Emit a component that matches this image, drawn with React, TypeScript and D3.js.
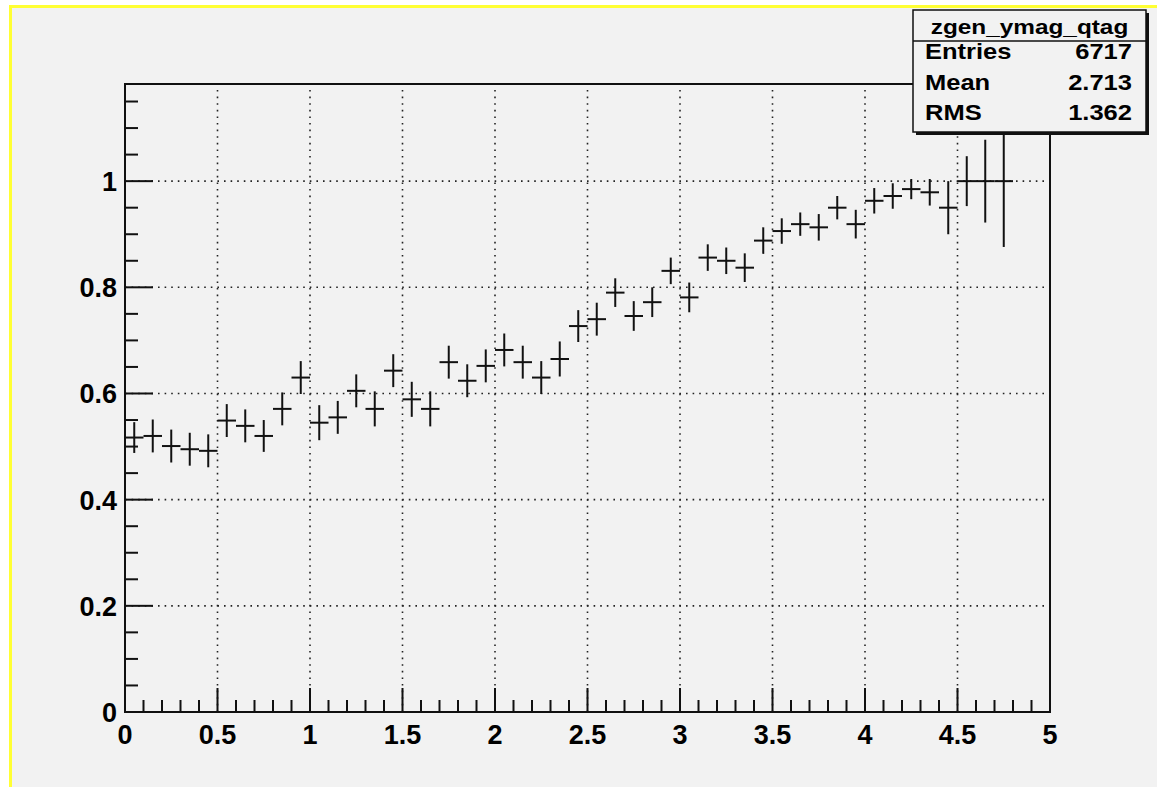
import React from "react";
import * as d3 from "d3";

// Histogram "zgen_ymag_qtag": bin centres, contents and errors
const binCenters = [
  0.05, 0.15, 0.25, 0.35, 0.45, 0.55, 0.65, 0.75, 0.85, 0.95,
  1.05, 1.15, 1.25, 1.35, 1.45, 1.55, 1.65, 1.75, 1.85, 1.95,
  2.05, 2.15, 2.25, 2.35, 2.45, 2.55, 2.65, 2.75, 2.85, 2.95,
  3.05, 3.15, 3.25, 3.35, 3.45, 3.55, 3.65, 3.75, 3.85, 3.95,
  4.05, 4.15, 4.25, 4.35, 4.45, 4.55, 4.65, 4.75,
];
const binValues = [
  0.517, 0.52, 0.501, 0.495, 0.492, 0.549, 0.539, 0.52, 0.571, 0.63,
  0.545, 0.555, 0.605, 0.571, 0.643, 0.589, 0.571, 0.659, 0.624, 0.652,
  0.682, 0.659, 0.63, 0.665, 0.727, 0.74, 0.79, 0.746, 0.772, 0.831,
  0.781, 0.856, 0.85, 0.837, 0.888, 0.906, 0.919, 0.913, 0.95, 0.919,
  0.963, 0.972, 0.985, 0.979, 0.95, 1.0, 1.0, 1.0,
];
const binErrors = [
  0.029, 0.031, 0.031, 0.031, 0.031, 0.031, 0.031, 0.03, 0.031, 0.031,
  0.033, 0.031, 0.031, 0.033, 0.031, 0.033, 0.033, 0.031, 0.031, 0.031,
  0.031, 0.031, 0.031, 0.033, 0.03, 0.031, 0.027, 0.028, 0.028, 0.025,
  0.028, 0.025, 0.025, 0.027, 0.025, 0.024, 0.022, 0.025, 0.022, 0.027,
  0.024, 0.024, 0.019, 0.025, 0.05, 0.047, 0.078, 0.124,
];
const binWidth = 0.1;

const xTickLabels = [0, 0.5, 1, 1.5, 2, 2.5, 3, 3.5, 4, 4.5, 5];
const yTickLabels = [0, 0.2, 0.4, 0.6, 0.8, 1];
const xDomain = [0, 5];
const yDomain = [0, 1.183];

const statsTitle = "zgen_ymag_qtag";
const statsLabels = ["Entries", "Mean", "RMS"];
const statsValues = ["6717", "2.713", "1.362"];

const W = 1157;
const H = 787;
const frame = { left: 125, right: 1050, top: 84, bottom: 712 };
const FONT = "'Liberation Sans', Arial, Helvetica, sans-serif";

export default function App() {
  const x = d3.scaleLinear().domain(xDomain).range([frame.left, frame.right]);
  const y = d3.scaleLinear().domain(yDomain).range([frame.bottom, frame.top]);

  const xMinor = d3.range(0, 50).map((i) => i / 10).filter((v) => Math.round(v * 10) % 5 !== 0);
  const yMinor = d3
    .range(0, 24)
    .map((i) => i * 0.05)
    .filter((v) => v <= yDomain[1] && Math.round(v * 100) % 20 !== 0);

  const gridX = xTickLabels.filter((v) => v > xDomain[0] && v < xDomain[1]);
  const gridY = yTickLabels.filter((v) => v > 0);

  const box = { x: 913, y: 10, w: 233, h: 122 };
  const stretch = 1.16;

  return (
    <svg
      width={W}
      height={H}
      style={{ position: "absolute", left: 0, top: 0, display: "block" }}
      fontFamily={FONT}
    >
      <rect x={0} y={0} width={W} height={H} fill="#ffffff" />
      <rect x={9} y={5} width={W - 9} height={H - 5} fill="#ffff33" />
      <rect x={12} y={8} width={W - 12} height={H - 8} fill="#f2f2f2" />

      {/* dotted grid */}
      <g stroke="#222" strokeWidth={1.6} strokeDasharray="1.6 5">
        {gridX.map((v) => (
          <line key={"gx" + v} x1={x(v)} x2={x(v)} y1={frame.bottom} y2={frame.top} />
        ))}
        {gridY.map((v) => (
          <line key={"gy" + v} x1={frame.left} x2={frame.right} y1={y(v)} y2={y(v)} />
        ))}
      </g>

      {/* axis ticks */}
      <g stroke="#111" strokeWidth={2}>
        {xTickLabels.map((v) => (
          <line key={"xt" + v} x1={x(v)} x2={x(v)} y1={frame.bottom} y2={frame.bottom - 24} />
        ))}
        {xMinor.map((v) => (
          <line key={"xm" + v} x1={x(v)} x2={x(v)} y1={frame.bottom} y2={frame.bottom - 12} />
        ))}
        {yTickLabels.map((v) => (
          <line key={"yt" + v} x1={frame.left} x2={frame.left + 28} y1={y(v)} y2={y(v)} />
        ))}
        {yMinor.map((v) => (
          <line key={"ym" + v} x1={frame.left} x2={frame.left + 13} y1={y(v)} y2={y(v)} />
        ))}
      </g>

      {/* error-bar markers */}
      <g stroke="#111" strokeWidth={2}>
        {binCenters.map((c, i) => (
          <g key={"b" + i}>
            <line
              x1={x(c - binWidth / 2)}
              x2={x(c + binWidth / 2)}
              y1={y(binValues[i])}
              y2={y(binValues[i])}
            />
            <line
              x1={x(c)}
              x2={x(c)}
              y1={y(binValues[i] - binErrors[i])}
              y2={y(binValues[i] + binErrors[i])}
            />
          </g>
        ))}
      </g>

      {/* frame */}
      <rect
        x={frame.left}
        y={frame.top}
        width={frame.right - frame.left}
        height={frame.bottom - frame.top}
        fill="none"
        stroke="#111"
        strokeWidth={2}
      />

      {/* tick labels */}
      <g fontWeight="bold" fontSize={27} fill="#000">
        {xTickLabels.map((v) => (
          <text key={"xl" + v} x={x(v)} y={frame.bottom + 32} textAnchor="middle">
            {String(v)}
          </text>
        ))}
        {yTickLabels.map((v) => (
          <text key={"yl" + v} x={frame.left - 8} y={y(v) + 10} textAnchor="end">
            {String(v)}
          </text>
        ))}
      </g>

      {/* statistics box */}
      <g>
        <rect x={box.x + 3} y={box.y + 3} width={box.w} height={box.h} fill="#111" />
        <rect x={box.x} y={box.y} width={box.w} height={box.h} fill="#f2f2f2" stroke="#111" strokeWidth={1.5} />
        <line x1={box.x} x2={box.x + box.w} y1={box.y + 31} y2={box.y + 31} stroke="#111" strokeWidth={1.5} />
        <text
          transform={`translate(${box.x + box.w / 2},${box.y + 24}) scale(${stretch},1)`}
          textAnchor="middle"
          fontWeight="bold"
          fontSize={21}
        >
          {statsTitle}
        </text>
        {statsLabels.map((lab, i) => (
          <g key={lab} fontWeight="bold" fontSize={22}>
            <text transform={`translate(${box.x + 12},${box.y + 49 + i * 30.5}) scale(${stretch},1)`}>
              {lab}
            </text>
            <text
              transform={`translate(${box.x + box.w - 14},${box.y + 49 + i * 30.5}) scale(${stretch},1)`}
              textAnchor="end"
            >
              {statsValues[i]}
            </text>
          </g>
        ))}
      </g>
    </svg>
  );
}
